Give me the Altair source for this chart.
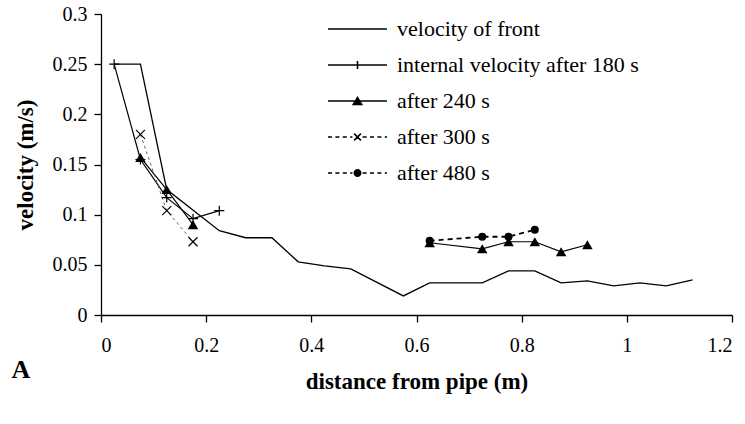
import altair as alt
import pandas as pd

# Distance from the pipe (m) and measured velocity (m/s) for each series
front_d = [0.025, 0.075, 0.125, 0.225, 0.275, 0.325, 0.375, 0.425, 0.475, 0.575,
           0.625, 0.725, 0.775, 0.825, 0.875, 0.925, 0.975, 1.025, 1.075, 1.125]
front_v = [0.25, 0.25, 0.125, 0.084, 0.077, 0.077, 0.053, 0.049, 0.046, 0.019,
           0.032, 0.032, 0.044, 0.044, 0.032, 0.034, 0.029, 0.032, 0.029, 0.035]

t180_d = [0.025, 0.075, 0.125, 0.175, 0.225]
t180_v = [0.25, 0.155, 0.117, 0.096, 0.104]

t240_d = [0.075, 0.125, 0.175, 0.625, 0.725, 0.775, 0.825, 0.875, 0.925]
t240_v = [0.157, 0.125, 0.090, 0.072, 0.066, 0.073, 0.073, 0.063, 0.070]

t300_d = [0.075, 0.125, 0.175]
t300_v = [0.180, 0.104, 0.073]

t480_d = [0.625, 0.725, 0.775, 0.825]
t480_v = [0.074, 0.078, 0.078, 0.085]

series_labels = [
    "velocity of front",
    "internal velocity after 180 s",
    "after 240 s",
    "after 300 s",
    "after 480 s",
]

x_ticks = [0, 0.2, 0.4, 0.6, 0.8, 1, 1.2]
y_ticks = [0, 0.05, 0.1, 0.15, 0.2, 0.25, 0.3]

SERIF = "Liberation Serif"


def frame(d, v):
    """Build a table; a new run starts wherever the distance jumps by a large gap."""
    runs, run = [], 0
    for i in range(len(d)):
        if i > 0 and d[i] - d[i - 1] > 0.2:
            run += 1
        runs.append(run)
    return pd.DataFrame({"d": d, "v": v, "run": runs})


front = frame(front_d, front_v)
s180 = frame(t180_d, t180_v)
s240 = frame(t240_d, t240_v)
s300 = frame(t300_d, t300_v)
s480 = frame(t480_d, t480_v)

X = alt.X(
    "d:Q",
    scale=alt.Scale(domain=[0, 1.2], nice=False),
    axis=alt.Axis(values=x_ticks, format="~g", title="distance from pipe (m)",
                  labelPadding=13, titlePadding=15),
)
Y = alt.Y(
    "v:Q",
    scale=alt.Scale(domain=[0, 0.3], nice=False),
    axis=alt.Axis(values=y_ticks, format="~g", title="velocity (m/s)",
                  labelPadding=7, titlePadding=15),
)


def line(df, width, dash=None, color="black"):
    kw = dict(color=color, strokeWidth=width)
    if dash:
        kw["strokeDash"] = dash
    return alt.Chart(df).mark_line(**kw).encode(x=X, y=Y, detail="run:N")


def markers(df, shape, size, filled):
    return alt.Chart(df).mark_point(
        shape=shape, size=size, filled=filled, color="black",
        opacity=1, strokeWidth=1.2,
    ).encode(x=X, y=Y)


PLUS = "M-1,0H1M0,-1V1"
CROSS = "M-1,-1L1,1M-1,1L1,-1"

# Legend keys are drawn as filled outlines (unit = 17 px): a line segment
# with the series marker in its middle.
HALF = 1.735
T = 0.045  # half thickness of a stroke


def hbar(a, b):
    return f"M{a:.3f},{-T}H{b:.3f}V{T}H{a:.3f}Z"


def vbar(c, a, b):
    return f"M{c - T:.3f},{a:.3f}H{c + T:.3f}V{b:.3f}H{c - T:.3f}Z"


def diag(x0, y0, x1, y1):
    dx, dy = x1 - x0, y1 - y0
    n = (dx * dx + dy * dy) ** 0.5
    ox, oy = -dy / n * T, dx / n * T
    pts = [(x0 + ox, y0 + oy), (x1 + ox, y1 + oy), (x1 - ox, y1 - oy), (x0 - ox, y0 - oy)]
    return "M" + "L".join(f"{px:.3f},{py:.3f}" for px, py in pts) + "Z"


def dashes(a, b, dash=0.235, gap=0.2):
    parts, x = [], a
    while x < b - 1e-9:
        end = min(x + dash, b)
        parts.append(hbar(x, end))
        x = end + gap
    return "".join(parts)


solid = hbar(-HALF, HALF)
key_front = solid
key_180 = solid + vbar(0, -0.235, 0.235)
key_240 = solid + "M0,-0.3L0.33,0.25L-0.33,0.25Z"
key_300 = (dashes(-HALF, -0.3) + dashes(0.3, HALF)
           + diag(-0.2, -0.2, 0.2, 0.2) + diag(-0.2, 0.2, 0.2, -0.2))
key_480 = (dashes(-HALF, -0.3) + dashes(0.3, HALF)
           + "M-0.235,0A0.235,0.235 0 1,0 0.235,0A0.235,0.235 0 1,0 -0.235,0Z")

legend_layer = (
    alt.Chart(pd.DataFrame({"series": series_labels}))
    .transform_filter("false")
    .mark_point(filled=True, color="black", opacity=1)
    .encode(
        shape=alt.Shape(
            "series:N",
            scale=alt.Scale(domain=series_labels,
                            range=[key_front, key_180, key_240, key_300, key_480]),
            legend=alt.Legend(
                title=None, orient="none", legendX=238.5, legendY=-3,
                symbolSize=1156, symbolFillColor="black", symbolOpacity=1,
                labelFont=SERIF, labelFontSize=22, labelColor="black",
                labelOffset=21.5, labelLimit=400, rowPadding=7, padding=0,
            ),
        )
    )
)

panel_letter = (
    alt.Chart(alt.Data(values=[{}]))
    .mark_text(font=SERIF, fontSize=26, fontWeight="bold", color="black",
               align="center", baseline="alphabetic")
    .encode(x=alt.value(-80), y=alt.value(364), text=alt.value("A"))
)

chart = (
    alt.layer(
        line(front, 1.3),
        line(s180, 1.2),
        line(s240, 1.2),
        line(s300, 1.0, dash=[3, 3], color="#666666"),
        line(s480, 1.8, dash=[5, 4]),
        markers(s180, PLUS, 100, False),
        markers(s240, "triangle-up", 110, True),
        markers(s300, CROSS, 81, False),
        markers(s480, "circle", 64, True),
        legend_layer,
        panel_letter,
    )
    .properties(
        width=631, height=301,
        autosize=alt.AutoSizeParams(type="none"),
        padding={"left": 101, "top": 14, "right": 13, "bottom": 109},
        background="white",
    )
    .configure_view(stroke=None)
    .configure_axis(
        grid=False, domainColor="black", tickColor="black", domainWidth=1.3,
        tickWidth=1.3, tickSize=7, labelFont=SERIF, labelFontSize=20,
        labelColor="black", titleFont=SERIF, titleFontSize=23,
        titleFontWeight="bold", titleColor="black",
    )
)

chart.save("out.html", embed_options={"renderer": "svg", "actions": False})
